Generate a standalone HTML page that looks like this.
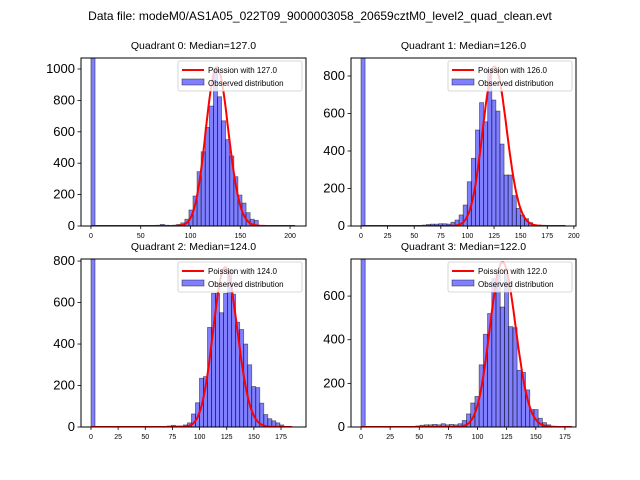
<!DOCTYPE html>
<html><head><meta charset="utf-8"><style>
body{margin:0;background:#fff}
svg{display:block;font-family:"Liberation Sans","DejaVu Sans",sans-serif}
</style></head><body>
<svg id="fig" width="640" height="480">
<text x="320" y="20" text-anchor="middle" font-size="12">Data file: modeM0/AS1A05_022T09_9000003058_20659cztM0_level2_quad_clean.evt</text>
</svg>
<script>
const titles=["Quadrant 0: Median=127.0","Quadrant 1: Median=126.0","Quadrant 2: Median=124.0","Quadrant 3: Median=122.0"];
const lambdas=[127,126,124,122];
const peaks=[1010,850,770,755];
const binWidths=[4.1,3.84,3.7,3.62];
const counts0=[5000,0,0,0,0,0,0,0,0,0,0,0,0,0,0,0,5,10,5,0,5,10,20,43,102,191,346,473,628,764,1000,823,670,550,446,314,197,146,85,43,36,0,0,0,0,0,0,0,0,2];
const counts1=[5000,0,0,0,0,0,0,0,0,0,0,0,0,0,0,5,8,10,10,12,12,10,20,32,59,112,236,361,512,658,556,832,672,613,437,272,272,162,94,59,39,18,5,5,0,0,0,0,0,2];
const counts2=[5000,0,0,0,0,0,0,0,0,0,0,0,0,0,0,0,0,0,3,5,8,5,5,10,20,63,117,235,243,480,644,644,551,644,760,640,505,470,400,300,195,190,115,60,40,30,20,10,0,2];
const counts3=[5000,0,0,0,0,0,0,0,0,0,0,0,0,5,8,10,10,12,10,15,10,12,10,15,30,60,110,140,285,425,520,680,700,550,700,460,455,260,250,170,80,80,40,20,10,0,0,0,0,2];
const allCounts=[counts0,counts1,counts2,counts3];
const xTicks=[[0,50,100,150,200],[0,25,50,75,100,125,150,175,200],[0,25,50,75,100,125,150,175],[0,25,50,75,100,125,150,175]];
const yTicks=[[0,200,400,600,800,1000],[0,200,400,600,800],[0,200,400,600,800],[0,200,400,600]];
const xDomains=[[-10,216],[-9.4,202],[-9.2,198],[-8.6,184.5]];
const yMax=[1070,896,810,770];
const boxes=[[81,58,225,168],[351,58,225,168],[81,259,225,168],[351,259,225,168]];
const NS="http://www.w3.org/2000/svg";
const svg=document.getElementById('fig');
function mk(t,a,p){const e=document.createElementNS(NS,t);for(const k in a)e.setAttribute(k,a[k]);(p||svg).appendChild(e);return e;}
function lgamma(n){let s=0;for(let i=2;i<=n;i++)s+=Math.log(i);return s;}
for(let q=0;q<4;q++){
  const [bx,by,bw,bh]=boxes[q];const [x0,x1]=xDomains[q];
  const X=v=>bx+(v-x0)/(x1-x0)*bw;
  const Y=v=>by+bh-v/yMax[q]*bh;
  const g=mk('g',{});
  
  
  const cp=mk('clipPath',{id:'c'+q},g);mk('rect',{x:bx,y:by,width:bw,height:bh},cp);
  const bars=mk('g',{'clip-path':'url(#c'+q+')'},g);
  const cs=allCounts[q],w=binWidths[q];
  cs.forEach((c,k)=>{if(c<=0)return;
    const r=mk('rect',{x:X(k*w),y:Y(c),width:X((k+1)*w)-X(k*w),height:Y(0)-Y(c),fill:'rgba(0,0,255,0.5)',stroke:'rgba(0,0,0,0.5)','stroke-width':0.8},bars);
    
    
  });
  const lam=lambdas[q],amp=peaks[q];
  const pk=Math.exp(Math.round(lam)*Math.log(lam)-lam-lgamma(Math.round(lam)));
  let d='';const xmax=cs.length*w;
  for(let n=0;n<=Math.ceil(xmax);n++){const p=Math.exp(n*Math.log(lam||1)-lam-lgamma(n))/pk*amp;d+=(n?'L':'M')+X(n).toFixed(1)+','+Y(p).toFixed(1);}
  const pl=mk('path',{d:d,fill:'none',stroke:'#ff0000','stroke-width':2},bars);
  
  
  mk('rect',{x:bx,y:by,width:bw,height:bh,fill:'none',stroke:'#000','stroke-width':1},g);
  xTicks[q].forEach(t=>{mk('line',{x1:X(t),x2:X(t),y1:by+bh,y2:by+bh+3,stroke:'#000','stroke-width':0.8},g);
    const tx=mk('text',{x:X(t),y:by+bh+12,'text-anchor':'middle','font-size':7},g);tx.textContent=t;
    
    });
  yTicks[q].forEach(t=>{mk('line',{x1:bx-3.5,x2:bx,y1:Y(t),y2:Y(t),stroke:'#000','stroke-width':0.8},g);
    const tx=mk('text',{x:bx-6,y:Y(t)+4,'text-anchor':'end','font-size':13},g);tx.textContent=t;
    
    });
  const ti=mk('text',{x:bx+bw/2,y:by-9,'text-anchor':'middle','font-size':10.5},g);ti.textContent=titles[q];
  
  
  const lg=mk('g',{},g);
  
  
  const lx=bx+bw-128,ly=by+3;
  mk('rect',{x:lx,y:ly,width:124,height:30,rx:2,fill:'rgba(255,255,255,0.8)',stroke:'#ccc','stroke-width':0.8},lg);
  mk('line',{x1:lx+4,x2:lx+26,y1:ly+9,y2:ly+9,stroke:'#ff0000','stroke-width':2},lg);
  const t1=mk('text',{x:lx+30,y:ly+12,'font-size':8},lg);t1.textContent='Poission with '+lam.toFixed(1);
  
  
  mk('rect',{x:lx+4,y:ly+18,width:22,height:6,fill:'rgba(0,0,255,0.5)',stroke:'rgba(0,0,0,0.5)','stroke-width':0.8},lg);
  const t2=mk('text',{x:lx+30,y:ly+25,'font-size':8},lg);t2.textContent='Observed distribution';
  
  
}
</script>
</body></html>
